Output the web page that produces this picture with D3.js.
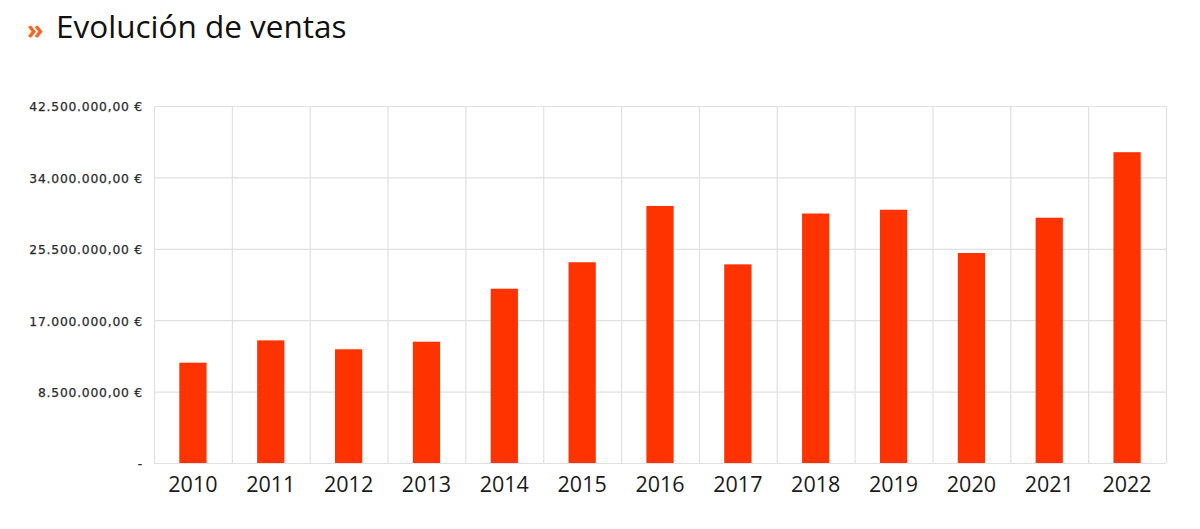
<!DOCTYPE html>
<html><head><meta charset="utf-8">
<script src="https://cdn.jsdelivr.net/npm/d3@7/dist/d3.min.js"></script>
<style>body{margin:0;background:#fff;}svg{display:block;}</style>
</head><body>
<svg id="c" width="1200" height="529"></svg>
<script>
const years = ["2010","2011","2012","2013","2014","2015","2016","2017","2018","2019","2020","2021","2022"];
const sales = [11940000,14600000,13540000,14440000,20750000,23900000,30600000,23650000,29700000,30150000,25000000,29200000,37000000];
const yTicks = [0,8500000,17000000,25500000,34000000,42500000];
const title = "Evolución de ventas";

const svg = d3.select("#c");
const m = {left:154, right:1166, top:106, bottom:463};
const x = d3.scaleBand().domain(years).range([m.left, m.right]).paddingInner(0).paddingOuter(0);
const y = d3.scaleLinear().domain([0,42500000]).range([m.bottom, m.top]);

const fmt = v => v === 0 ? "-" : d3.formatLocale({decimal:",", thousands:".", grouping:[3], currency:["","\u00a0€"]}).format("$,.2f")(v);

// grid
const g = svg.append("g");
g.selectAll("line.h").data(yTicks).join("line")
  .attr("x1", m.left).attr("x2", m.right)
  .attr("y1", d=>y(d)+0.5).attr("y2", d=>y(d)+0.5)
  .attr("stroke", "#e0e0e0").attr("stroke-width", 1.2);
const bounds = years.map(d=>x(d)).concat([m.right]);
g.selectAll("line.v").data(bounds).join("line")
  .attr("x1", d=>d+0.5).attr("x2", d=>d+0.5)
  .attr("y1", m.top).attr("y2", m.bottom)
  .attr("stroke", "#e0e0e0").attr("stroke-width", 1.2);

// bars
const bw = x.bandwidth()*0.35;
svg.append("g").selectAll("rect").data(years).join("rect")
  .attr("x", (d)=>x(d)+x.bandwidth()/2-bw/2)
  .attr("width", bw)
  .attr("y", (d,i)=>y(sales[i]))
  .attr("height", (d,i)=>y(0)-y(sales[i]))
  .attr("fill", "#ff3300");

// y axis
const ya = svg.append("g").attr("transform", `translate(${m.left-11},0)`)
  .call(d3.axisLeft(y).tickValues(yTicks).tickFormat(fmt).tickSize(0).tickPadding(0));
ya.select(".domain").remove();
ya.selectAll("text").attr("font-family","'DejaVu Sans', sans-serif").attr("font-size","12.3px")
  .attr("letter-spacing","0.8px")
  .attr("fill","#2a2a2a").attr("stroke","#2a2a2a").attr("stroke-width","0.25").attr("dy","0.4em");

// x axis
const xa = svg.append("g").attr("transform", `translate(0,${m.bottom})`)
  .call(d3.axisBottom(x).tickSize(0).tickPadding(14));
xa.select(".domain").remove();
xa.selectAll("text").attr("font-family","'Open Sans', 'Noto Sans', sans-serif").attr("font-size","21.5px").attr("fill","#1a1a1a");

// title
svg.append("text").attr("x", 27).attr("y", 39).attr("font-family","'Open Sans', sans-serif")
  .attr("font-size","27px").attr("font-weight","bold").attr("fill","#f26522").text("»");
svg.append("text").attr("x", 56).attr("y", 38).attr("font-family","'Open Sans', sans-serif")
  .attr("font-size","31.5px").attr("fill","#111").text(title);
</script>
</body></html>
